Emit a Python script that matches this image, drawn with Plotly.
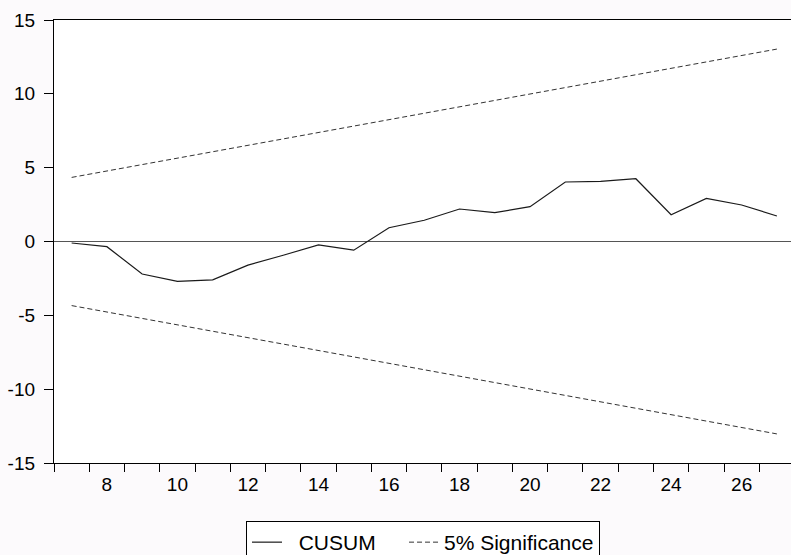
import plotly.graph_objects as go

# Data
obs = list(range(7, 28))
cusum = [-0.1, -0.35, -2.2, -2.7, -2.6, -1.6, -0.93, -0.23, -0.59, 0.93,
         1.44, 2.2, 1.95, 2.36, 4.03, 4.07, 4.25, 1.81, 2.92, 2.47, 1.73]
bound_x = [7, 27]
upper = [4.34, 13.03]
lower = [-4.34, -13.03]

x_tickvals = [8, 10, 12, 14, 16, 18, 20, 22, 24, 26]
y_tickvals = [-15, -10, -5, 0, 5, 10, 15]
y_ticktext = ["-15", "-10", "-5", "0", "5", "10", "15"]

FONT = "Arial, Liberation Sans, sans-serif"
NB = "\u00a0"

fig = go.Figure()
fig.add_trace(go.Scatter(x=obs, y=cusum, mode="lines", name=NB * 2 + "CUSUM" + NB * 4,
                         line=dict(color="#1a1a1a", width=1.2)))
fig.add_trace(go.Scatter(x=bound_x, y=upper, mode="lines", name="5% Significance",
                         line=dict(color="#333333", width=1, dash="5px,3px")))
fig.add_trace(go.Scatter(x=bound_x, y=lower, mode="lines", name="5% Significance",
                         showlegend=False,
                         line=dict(color="#333333", width=1, dash="5px,3px")))

fig.update_layout(
    width=791, height=555,
    margin=dict(l=54, r=0, t=20, b=92, autoexpand=False),
    paper_bgcolor="#FCFAFC",
    plot_bgcolor="#FFFFFF",
    font=dict(family=FONT, size=19, color="#000000"),
    showlegend=True,
    legend=dict(orientation="h", x=(246 - 54) / 737, xanchor="left",
                y=-(521 - 463) / 443, yanchor="top",
                bordercolor="#000000", borderwidth=1, bgcolor="#FFFFFF",
                font=dict(family=FONT, size=21), itemwidth=30, tracegroupgap=0),
    xaxis=dict(range=[6.5, 27.4], tickvals=x_tickvals, ticks="",
               showgrid=False, zeroline=False,
               showline=True, linecolor="#000000", linewidth=1.3, mirror=True,
               ticklabelstandoff=4,
               minor=dict(tick0=6.5, dtick=1, ticks="outside", ticklen=8,
                          tickcolor="#000000", tickwidth=1, showgrid=False)),
    yaxis=dict(range=[-15, 15], tickvals=y_tickvals, ticktext=y_ticktext,
               ticks="outside", ticklen=9,
               tickcolor="#000000", tickwidth=1,
               showgrid=False, zeroline=True, zerolinecolor="#555555", zerolinewidth=1,
               showline=True, linecolor="#000000", linewidth=1.3, mirror=False,
               ticklabelstandoff=5),
)

fig.write_html("out.html")
